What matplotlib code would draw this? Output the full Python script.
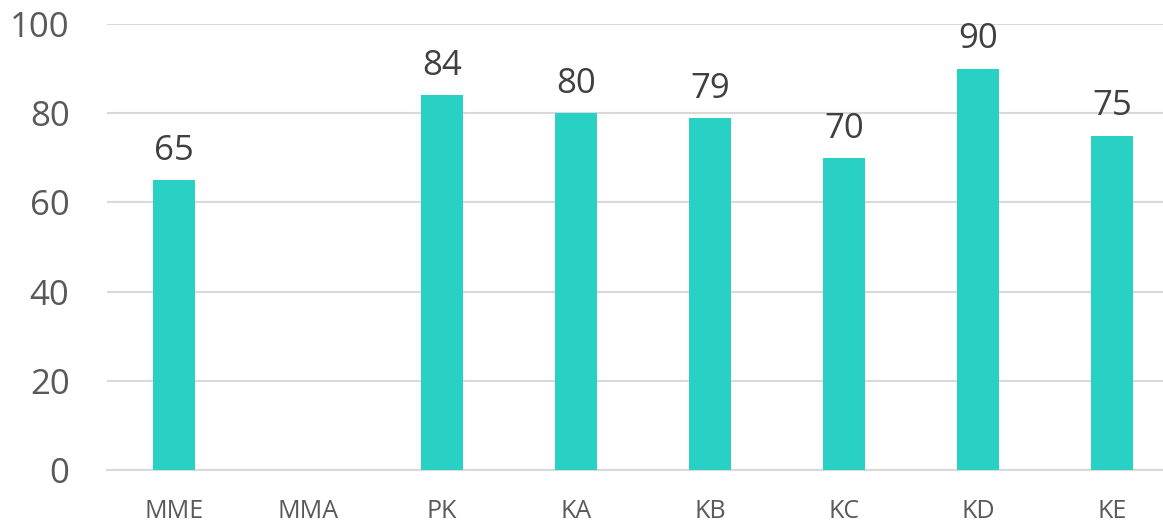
import numpy as np
import matplotlib.pyplot as plt

# Data
categories = ['MME', 'MMA', 'PK', 'KA', 'KB', 'KC', 'KD', 'KE']
values = [65, np.nan, 84, 80, 79, 70, 90, 75]
y_ticks = [0, 20, 40, 60, 80, 100]

# Plot style
plt.rcParams['font.family'] = ['Open Sans', 'DejaVu Sans']

fig = plt.figure(figsize=(11.63, 5.25), dpi=100)
# axes area in pixels: x 107..1179 (cropped on the right), y 24..470
ax = fig.add_axes([107 / 1163, (525 - 470) / 525, 1072 / 1163, 446 / 525])

x = np.arange(len(categories))
bars = ax.bar(x, values, width=0.313, color='#29D0C4', zorder=3)

for xi, v in zip(x, values):
    if np.isnan(v):
        continue
    ax.annotate(f"{v:g}", xy=(xi, v), xytext=(0, 14.5), textcoords='offset points',
                ha='center', va='baseline', fontsize=25, color='#404040')

ax.set_xlim(-0.5, len(categories) - 0.5)
ax.set_ylim(0, 100)
ax.set_yticks(y_ticks)
ax.set_xticks(x)
ax.set_xticklabels(categories)
ax.yaxis.grid(True, color='#D9D9D9', linewidth=1.5, zorder=0)
ax.tick_params(axis='y', length=0, pad=27, labelsize=25, labelcolor='#595959')
ax.tick_params(axis='x', length=0, pad=21, labelsize=18, labelcolor='#595959')
for side in ['top', 'right', 'left']:
    ax.spines[side].set_visible(False)
ax.spines['bottom'].set_color('#D9D9D9')
ax.spines['bottom'].set_linewidth(1.5)

fig.savefig('out.png', dpi=100)
